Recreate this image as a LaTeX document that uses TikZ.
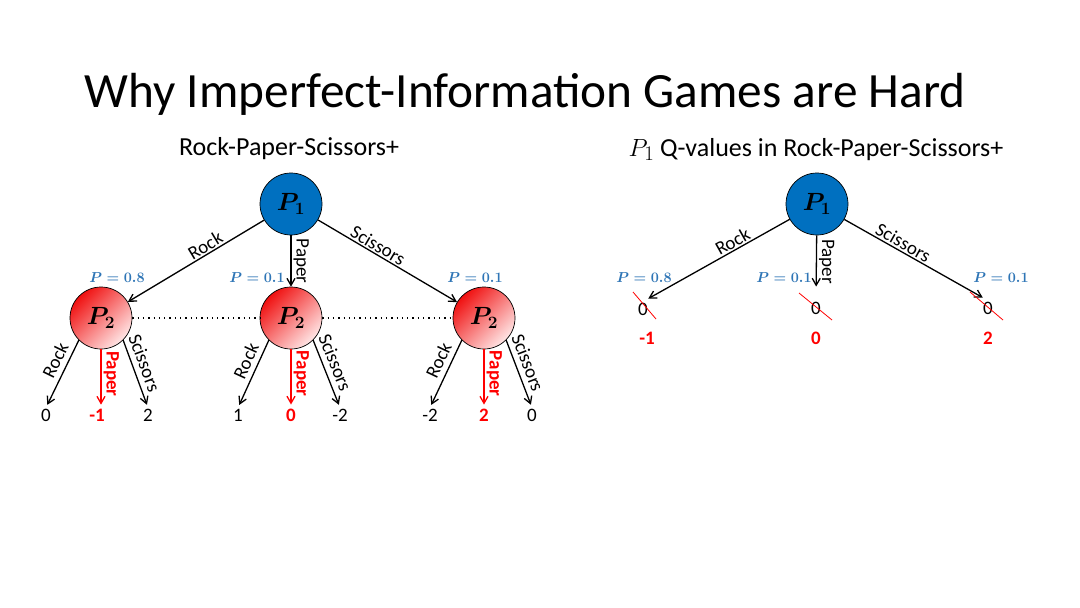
\documentclass[tikz,border=0pt]{standalone}
\usepackage{amsmath}
\usepackage{fontspec}
\setmainfont{Carlito}
\usetikzlibrary{arrows.meta}
\definecolor{pblue}{RGB}{0,112,192}
\definecolor{lblue}{RGB}{46,117,182}
\definecolor{pdark}{RGB}{240,16,16}
\definecolor{plight}{RGB}{255,230,230}
\newcommand{\bP}[1]{$\boldsymbol{P_{#1}}$}
\newcommand{\bprob}[1]{$\boldsymbol{P=#1}$}
\tikzset{
  pnodeone/.style={circle,draw=black,line width=0.7pt,fill=pblue,minimum size=62pt,inner sep=0pt,font=\fontsize{23}{26}\selectfont},
  pnodetwo/.style={circle,draw=black,line width=0.7pt,top color=pdark,bottom color=plight,shading angle=45,minimum size=62pt,inner sep=0pt,font=\fontsize{23}{26}\selectfont},
  myarrow/.style={line width=1.3pt,-{Straight Barb[length=7pt,width=8pt]}},
  elab/.style={font=\fontsize{19}{22}\selectfont,sloped,above,inner sep=1.5pt},
  vlab/.style={font=\fontsize{19}{22}\selectfont,rotate=-90,anchor=south,inner sep=2pt},
  vredlab/.style={vlab,text=red,font=\fontsize{19}{22}\selectfont\bfseries},
  leafnode/.style={font=\fontsize{19}{22}\selectfont,inner sep=1pt},
  redleafnode/.style={leafnode,text=red,font=\fontsize{19}{22}\selectfont\bfseries},
  problab/.style={font=\fontsize{14.5}{16}\selectfont,text=lblue,inner sep=0pt},
  strikeline/.style={red,line width=0.8pt},
  infoset/.style={line width=1.2pt,dash pattern=on 1.3pt off 4pt}
}
\begin{document}
\begin{tikzpicture}[x=1pt,y=-1pt]
\useasboundingbox (0,0) rectangle (1080,608);
\fill[white] (0,0) rectangle (1080,608);

% titles
\node[anchor=base,font=\fontsize{49.3}{60}\selectfont] (title) at (525,107) {Why Imperfect-Information Games are Hard};
\node[anchor=base,font=\fontsize{26}{30}\selectfont] (st1) at (289,155) {Rock-Paper-Scissors+};
\node[anchor=base,font=\fontsize{26}{30}\selectfont] (st2) at (816,156) {{\fontsize{28}{30}\selectfont$P_1$} Q-values in Rock-Paper-Scissors+};

% left tree
\node[pnodeone] (ra) at (291,204) {\bP{1}};
\node[pnodetwo] (rb1) at (101,318) {\bP{2}};
\node[pnodetwo] (rb2) at (291,318) {\bP{2}};
\node[pnodetwo] (rb3) at (484,318) {\bP{2}};

\node[problab] (pb1) at (117,278) {\bprob{0.8}};
\node[problab] (pb2) at (257,278) {\bprob{0.1}};
\node[problab] (pb3) at (475,278) {\bprob{0.1}};

\draw[myarrow] (ra) -- node[elab,pos=0.4]{Rock} (rb1);
\draw[myarrow] (ra) -- node[vlab,pos=0.5]{Paper} (rb2);
\draw[myarrow] (ra) -- node[elab,pos=0.4]{Scissors} (rb3);

\draw[infoset] (rb1) -- (rb2);
\draw[infoset] (rb2) -- (rb3);

\node[leafnode] (l11) at (46,415) {0};
\node[redleafnode] (l12) at (97,415) {-1};
\node[leafnode] (l13) at (148,415) {2};
\node[leafnode] (l21) at (238,415) {1};
\node[redleafnode] (l22) at (291,415) {0};
\node[leafnode] (l23) at (340,415) {-2};
\node[leafnode] (l31) at (430,415) {-2};
\node[redleafnode] (l32) at (484,415) {2};
\node[leafnode] (l33) at (532,415) {0};

\foreach \b/\i in {rb1/1,rb2/2,rb3/3}{
  \draw[myarrow,shorten >=3pt] (\b.225) -- node[elab,pos=0.38,inner sep=5pt]{Rock} (l\i1.north);
  \draw[myarrow,red,shorten >=3pt] (\b.south) -- node[vredlab,pos=0.42]{Paper} (\b.south |- l\i2.north);
  \draw[myarrow,shorten >=3pt] (\b.-45) -- node[elab,pos=0.4,inner sep=5pt]{Scissors} (l\i3.north);
}

% right tree
\node[pnodeone] (qc) at (817,204) {\bP{1}};
\node[leafnode] (q1) at (643,309) {0};
\node[leafnode] (q2) at (816,308) {0};
\node[leafnode] (q3) at (988,308) {0};

\node[problab] (pq1) at (644,278) {\bprob{0.8}};
\node[problab] (pq2) at (784,278) {\bprob{0.1}};
\node[problab] (pq3) at (1001,278) {\bprob{0.1}};

\draw[myarrow,shorten >=6pt] (qc) -- node[elab,pos=0.36]{Rock} (q1.north);
\draw[myarrow,shorten >=14pt] (qc) -- node[vlab,pos=0.4]{Paper} (q2.north);
\draw[myarrow,shorten >=6pt] (qc) -- node[elab,pos=0.38]{Scissors} (q3.north);

\draw[strikeline] ([shift={(-10,-17)}]q1.center) -- ([shift={(13,10)}]q1.center);
\draw[strikeline] ([shift={(-17,-15)}]q2.center) -- ([shift={(16,12)}]q2.center);
\draw[strikeline] ([shift={(-18,-16)}]q3.center) -- ([shift={(15,12)}]q3.center);

\node[redleafnode] (v1) at (647,338) {-1};
\node[redleafnode] (v2) at (816,338) {0};
\node[redleafnode] (v3) at (988,338) {2};
\end{tikzpicture}
\end{document}
